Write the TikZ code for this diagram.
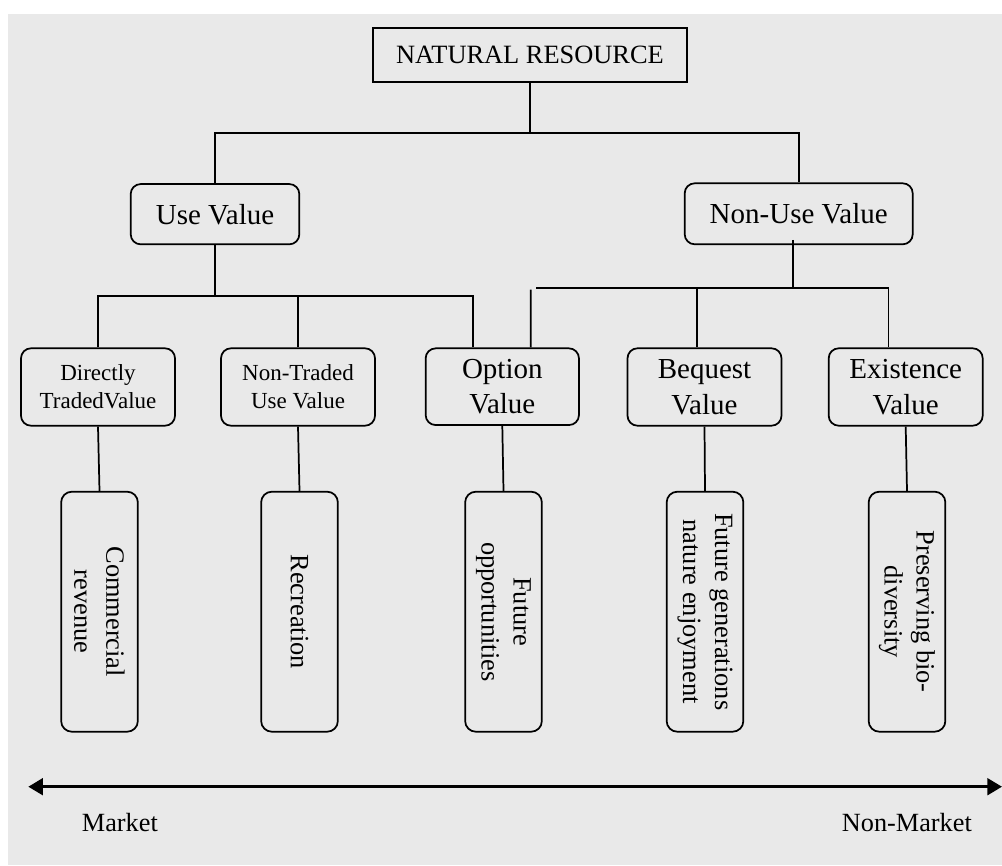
\documentclass[tikz,border=0pt]{standalone}
\usepackage{fontspec}
\setmainfont{Liberation Serif}
\usetikzlibrary{arrows.meta}
\newcommand\pxu[1]{#1*0.75pt}
\definecolor{bg}{RGB}{233,233,233}
\begin{document}
\begin{tikzpicture}[x=0.75pt,y=-0.75pt,
  base/.style={draw=black, line width=1.3pt, inner sep=0pt, align=center, text=black},
  topbox/.style={base, line width=1.5pt, minimum width=\pxu{314.6}, minimum height=\pxu{53.4}, font=\fontsize{19.8pt}{24pt}\selectfont},
  valbox/.style={base, rounded corners=7.5pt, font=\fontsize{21.75pt}{26.8pt}\selectfont},
  smallbox/.style={base, rounded corners=7.5pt, minimum width=\pxu{154}, minimum height=\pxu{77.4}, font=\fontsize{17.25pt}{21.2pt}\selectfont},
  lowbox/.style={valbox, minimum width=\pxu{154}, minimum height=\pxu{77.4}},
  vbox/.style={base, rounded corners=8pt, rotate=-90, minimum width=\pxu{240}, minimum height=\pxu{76.7}, font=\fontsize{19.8pt}{24pt}\selectfont},
  conn/.style={line width=1.3pt},
  lab/.style={inner sep=0pt, font=\fontsize{19.7pt}{24pt}\selectfont}
]
\useasboundingbox (0,0) rectangle (1002,866);
\fill[bg] (8,14) rectangle (1002,865);

% nodes
\node[topbox] (nr) at (530,55) {NATURAL RESOURCE};
\node[valbox, minimum width=\pxu{168.6}, minimum height=\pxu{60.3}] (use) at (215,214.2) {Use Value};
\node[valbox, minimum width=\pxu{228}, minimum height=\pxu{61}] (nonuse) at (798.7,213.8) {Non-Use Value};

\node[smallbox] (dt) at (98,387) {Directly\\TradedValue};
\node[smallbox] (nt) at (298,387) {Non-Traded\\Use Value};
\node[lowbox, minimum width=\pxu{153.3}, minimum height=\pxu{76.7}] (opt) at (502.3,386.7) {Option\\Value};
\node[lowbox] (beq) at (704.5,387) {Bequest\\Value};
\node[lowbox] (ex) at (905.7,387) {Existence\\Value};

\node[vbox] (cr) at (99.5,611.7) {Commercial\\revenue};
\node[vbox] (rec) at (299.5,611.7) {Recreation};
\node[vbox] (fo) at (503.5,611.7) {Future\\opportunities};
\node[vbox] (fg) at (705,611.7) {Future generations\\nature enjoyment};
\node[vbox] (pb) at (907,611.7) {Preserving bio-\\diversity};

% top level connectors
\coordinate (j1) at (530,133);
\draw[conn] (nr.south) -- (j1);
\draw[conn] (use.north) |- (j1) -| (nonuse.north);

% use value branch
\coordinate (j2) at (215,296);
\draw[conn] (use.south) -- (j2);
\draw[conn] (dt.north) |- (j2) -| ([xshift=\pxu{-29.3}]opt.north);
\draw[conn] (nt.north) -- (nt.north |- j2);

% non-use value branch
\coordinate (j3) at (792.7,288);
\coordinate (h3) at (536,288);
\coordinate (o2) at (530.7,289.5);
\draw[conn] ([xshift=\pxu{-6}, yshift=\pxu{5.3}]nonuse.south) -- (j3);
\draw[conn] (h3) -- (j3) -| ([xshift=\pxu{-17.2}]ex.north);
\draw[conn] ([xshift=\pxu{-7.8}]beq.north) -- ([xshift=\pxu{-7.8}]beq.north |- j3);
\draw[conn] ([xshift=\pxu{28.4}]opt.north) -- (o2);

% lower connectors
\draw[conn] (dt.south) -- (cr.west);
\draw[conn] (nt.south) -- (rec.west);
\draw[conn] (opt.south) -- (fo.west);
\draw[conn] (beq.south) -- (fg.west);
\draw[conn] (ex.south) -- (pb.west);

% market axis
\coordinate (aL) at (28.3,786.7);
\coordinate (aR) at (1002,786.7);
\draw[line width=2.2pt, {Triangle[length=11pt,width=12.5pt]}-{Triangle[length=11pt,width=12.5pt]}] (aL) -- (aR);
\node[lab, anchor=base west] (mk) at (81.7,831.7) {Market};
\node[lab, anchor=base west] (nm) at (841.7,831.7) {Non-Market};
\end{tikzpicture}
\end{document}
